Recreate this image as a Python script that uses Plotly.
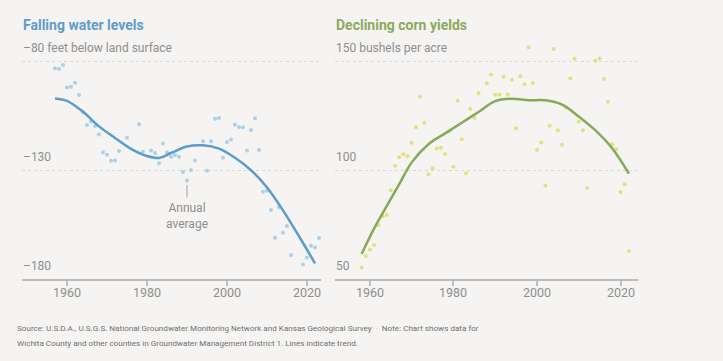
import plotly.graph_objects as go

# ---------------- data ----------------
water_years = [1957, 1958, 1959, 1960, 1961, 1962, 1963, 1964, 1965, 1966, 1967, 1968, 1969,
               1970, 1971, 1972, 1973, 1975, 1978, 1979, 1981, 1982, 1983, 1984, 1985, 1986,
               1987, 1988, 1989, 1990, 1991, 1992, 1994, 1995, 1996, 1997, 1998, 1999, 2000,
               2001, 2002, 2003, 2004, 2005, 2006, 2007, 2008, 2009, 2010, 2011, 2012, 2013,
               2014, 2015, 2016, 2019, 2020, 2021, 2022, 2023]
water_levels = [-83.3, -83.7, -81.8, -92.2, -91.8, -90.0, -95.6, -103.5, -109.4, -107.8, -109.8,
                -113.7, -121.9, -123.0, -125.7, -125.6, -121.3, -115.2, -109.0, -121.6, -121.1,
                -122.2, -126.9, -117.9, -121.9, -123.9, -123.1, -123.9, -130.9, -134.8, -130.0,
                -125.6, -116.8, -130.3, -116.8, -106.5, -106.1, -124.4, -117.1, -116.0, -109.3,
                -110.4, -110.4, -121.0, -111.7, -106.3, -120.8, -140.0, -139.5, -148.3, -161.1,
                -147.1, -158.8, -155.7, -169.0, -173.3, -170.1, -164.8, -165.6, -161.2]
water_trend_years = [1957, 1960, 1964, 1968, 1972, 1976, 1980, 1983, 1986, 1990, 1994, 1998,
                     2002, 2006, 2010, 2014, 2018, 2022]
water_trend = [-97.2, -98.3, -103.3, -110.0, -115.3, -120.3, -123.6, -124.5, -122.2, -119.2,
               -118.7, -120.2, -124.4, -130.1, -138.0, -148.5, -160.4, -172.8]

corn_years = [1958, 1959, 1960, 1961, 1962, 1963, 1964, 1965, 1966, 1967, 1968, 1969, 1970,
              1971, 1972, 1973, 1974, 1975, 1976, 1977, 1978, 1979, 1980, 1981, 1982, 1983,
              1984, 1985, 1986, 1988, 1989, 1990, 1991, 1992, 1993, 1994, 1995, 1996, 1997,
              1998, 1999, 2000, 2001, 2002, 2003, 2004, 2005, 2006, 2007, 2008, 2009, 2010,
              2011, 2012, 2014, 2015, 2016, 2017, 2018, 2019, 2020, 2021, 2022]
corn_yields = [55.3, 60.5, 63.5, 65.6, 74.8, 78.8, 79.4, 90.7, 101.9, 105.9, 107.2, 106.3, 112.5,
               119.6, 133.6, 121.7, 97.9, 100.8, 110.0, 110.2, 107.3, 117.8, 101.5, 131.8, 114.1,
               98.5, 128.0, 123.8, 135.2, 139.8, 143.8, 134.5, 134.5, 142.8, 134.6, 141.4, 119.2,
               143.0, 139.3, 156.3, 139.9, 109.3, 112.6, 92.8, 120.3, 155.5, 118.2, 111.6, 128.6,
               142.0, 151.0, 122.1, 118.2, 91.7, 150.1, 151.1, 141.8, 131.3, 111.8, 109.5, 89.9,
               93.5, 62.8]
corn_trend_years = [1958, 1961, 1964, 1967, 1970, 1974, 1978, 1982, 1986, 1990, 1994, 1998,
                    2002, 2006, 2010, 2014, 2018, 2022]
corn_trend = [61.5, 73.2, 83.4, 93.5, 103.5, 111.8, 116.8, 121.7, 126.6, 131.6, 132.7, 132.0,
              132.0, 130.0, 124.5, 118.2, 110.0, 98.4]

x_ticks = [1960, 1980, 2000, 2020]
x_tick_labels = ["1960", "1980", "2000", "2020"]
water_ticks = [-80, -130, -180]
water_tick_labels = ["\u201380 feet below land surface", "\u2013130", "\u2013180"]
corn_ticks = [150, 100, 50]
corn_tick_labels = ["150 bushels per acre", "100", "50"]

# ---------------- style ----------------
W, H = 723, 361
BG = "#f5f4f2"
FONT = "Roboto, Liberation Sans, sans-serif"
BLUE_T = "#5e9dcb"
BLUE_L = "#5b9cc8"
BLUE_P = "#aad0ea"
GREEN_T = "#8cab5a"
GREEN_L = "#86a95a"
GREEN_P = "#dfe27c"
GRAY = "#8f8f8f"


def px_x(p):
    return p / W


def px_y(p):
    return 1 - p / H


fig = go.Figure()

fig.add_trace(go.Scatter(x=water_years, y=water_levels, mode="markers",
                         marker=dict(size=4, color=BLUE_P), xaxis="x", yaxis="y",
                         hoverinfo="skip"))
fig.add_trace(go.Scatter(x=water_trend_years, y=water_trend, mode="lines",
                         line=dict(color=BLUE_L, width=2.5, shape="spline", smoothing=1.0),
                         xaxis="x", yaxis="y", hoverinfo="skip"))
fig.add_trace(go.Scatter(x=corn_years, y=corn_yields, mode="markers",
                         marker=dict(size=4, color=GREEN_P), xaxis="x2", yaxis="y2",
                         hoverinfo="skip"))
fig.add_trace(go.Scatter(x=corn_trend_years, y=corn_trend, mode="lines",
                         line=dict(color=GREEN_L, width=2.5, shape="spline", smoothing=1.0),
                         xaxis="x2", yaxis="y2", hoverinfo="skip"))

ydom = [px_y(279), px_y(40)]
ppu = 109 / 50.0  # pixels per unit
top_extra = (279 - 40) / ppu

xaxis_common = dict(showline=True, linecolor="#bdbdbd", linewidth=2, ticks="outside",
                    ticklen=5, tickwidth=1.5, tickcolor="#bdbdbd", tickvals=x_ticks,
                    showticklabels=False, showgrid=False,
                    zeroline=False, fixedrange=True)
yaxis_common = dict(showticklabels=False, ticks="", showgrid=True, gridcolor="#d9d9d9",
                    griddash="dot", gridwidth=1, zeroline=False, showline=False,
                    fixedrange=True, domain=ydom)

fig.update_layout(
    width=W, height=H, paper_bgcolor=BG, plot_bgcolor=BG,
    margin=dict(l=0, r=0, t=0, b=0), showlegend=False,
    xaxis=dict(domain=[px_x(22), px_x(321)], range=[1948.75, 2023.5], anchor="y",
               **xaxis_common),
    xaxis2=dict(domain=[px_x(335), px_x(638)], range=[1951.62, 2024.19], anchor="y2",
                **xaxis_common),
    yaxis=dict(range=[-180, -180 + top_extra], tickvals=water_ticks, anchor="x",
               **yaxis_common),
    yaxis2=dict(range=[50, 50 + top_extra], tickvals=corn_ticks, anchor="x2",
                **yaxis_common),
)

ann = []
# x tick labels
for xr in ("x", "x2"):
    for v, t in zip(x_ticks, x_tick_labels):
        ann.append(dict(x=v, xref=xr, y=px_y(292), yref="paper", text=t, showarrow=False,
                        xanchor="center", yanchor="middle",
                        font=dict(family=FONT, size=12.5, color=GRAY)))
# y tick labels above gridlines
for v, t in zip(water_ticks, water_tick_labels):
    ann.append(dict(x=px_x(21), xref="paper", y=v, yref="y", text=t, showarrow=False,
                    xanchor="left", yanchor="bottom", yshift=4,
                    font=dict(family=FONT, size=12, color=GRAY)))
for v, t in zip(corn_ticks, corn_tick_labels):
    ann.append(dict(x=px_x(334), xref="paper", y=v, yref="y2", text=t, showarrow=False,
                    xanchor="left", yanchor="bottom", yshift=4,
                    font=dict(family=FONT, size=12, color=GRAY)))

# titles
ann.append(dict(x=px_x(21), xref="paper", y=px_y(25), yref="paper", text="<b>Falling water levels</b>",
                showarrow=False, xanchor="left", yanchor="middle",
                font=dict(family=FONT, size=14, color=BLUE_T)))
ann.append(dict(x=px_x(334), xref="paper", y=px_y(25), yref="paper", text="<b>Declining corn yields</b>",
                showarrow=False, xanchor="left", yanchor="middle",
                font=dict(family=FONT, size=14, color=GREEN_T)))

# annual average callout
ann.append(dict(x=1990, xref="x", y=-143.5, yref="y", text="Annual<br>average", showarrow=False,
                xanchor="center", yanchor="top",
                font=dict(family=FONT, size=12, color=GRAY)))

# footer
ann.append(dict(x=px_x(15), xref="paper", y=px_y(328), yref="paper",
                text="Source: U.S.D.A., U.S.G.S. National Groundwater Monitoring Network and Kansas Geological Survey "
                     "<span style='color:#c4c4c4'> \u00b7 </span> Note: Chart shows data for",
                showarrow=False, xanchor="left", yanchor="middle",
                font=dict(family=FONT, size=8.1, color="#707070")))
ann.append(dict(x=px_x(15), xref="paper", y=px_y(343), yref="paper",
                text="Wichita County and other counties in Groundwater Management District 1. Lines indicate trend.",
                showarrow=False, xanchor="left", yanchor="middle",
                font=dict(family=FONT, size=8.1, color="#707070")))

fig.update_layout(annotations=ann)

fig.add_shape(type="line", xref="x", yref="y", x0=1990, x1=1990, y0=-136.9, y1=-142.6,
              line=dict(color="#a0a0a0", width=1))

fig.write_html(
    "out.html",
    config={"displayModeBar": False},
    post_script=("document.body.style.margin='0';"
                 "document.body.style.backgroundColor='" + BG + "';"),
)
